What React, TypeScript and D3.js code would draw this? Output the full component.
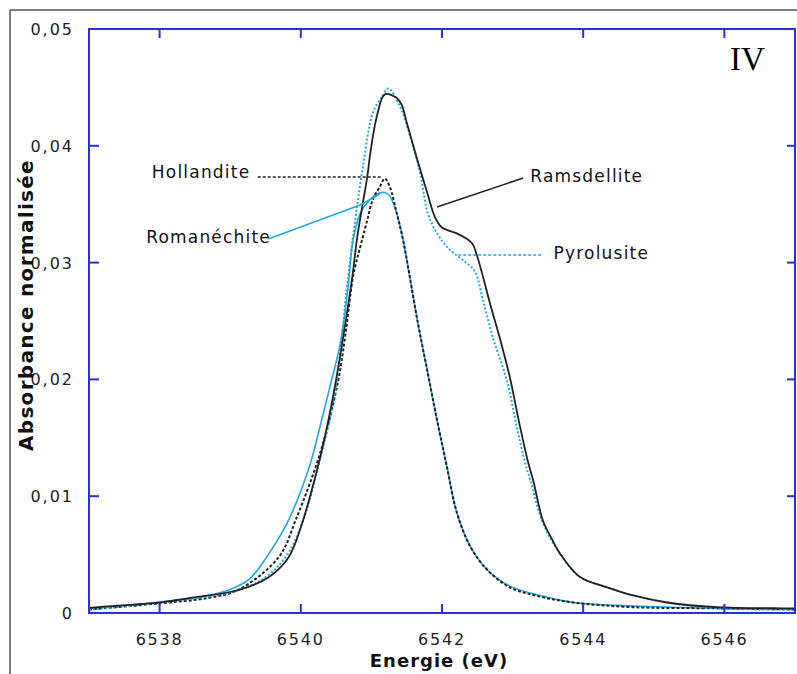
import React from "react";
import * as d3 from "d3";

// ---- Data ----
const ramsdelliteE = [6537.0, 6537.24, 6537.95, 6538.42, 6539.12, 6539.55, 6539.83, 6540.02, 6540.24, 6540.37, 6540.48, 6540.6, 6540.73, 6540.8, 6540.87, 6540.94, 6540.99, 6541.08, 6541.19, 6541.36, 6541.43, 6541.5, 6541.65, 6541.79, 6541.9, 6542.0, 6542.21, 6542.42, 6542.5, 6542.58, 6542.68, 6542.82, 6542.96, 6543.1, 6543.22, 6543.29, 6543.43, 6543.56, 6543.67, 6543.95, 6544.34, 6544.71, 6545.19, 6545.9, 6546.83, 6547.0];
const ramsdelliteA = [0.00043, 0.00056, 0.00086, 0.00128, 0.00197, 0.00308, 0.00479, 0.00771, 0.0125, 0.0159, 0.0193, 0.0236, 0.0288, 0.0322, 0.0348, 0.0373, 0.0396, 0.0426, 0.0444, 0.0441, 0.0435, 0.042, 0.0388, 0.036, 0.0339, 0.033, 0.0325, 0.0317, 0.0305, 0.0288, 0.0265, 0.0235, 0.0202, 0.0161, 0.0129, 0.0114, 0.0079, 0.0063, 0.0051, 0.0031, 0.0022, 0.0015, 0.0009, 0.0005, 0.0004, 0.0004];

const pyrolusiteE = [6537.0, 6537.95, 6539.12, 6539.55, 6539.83, 6540.06, 6540.27, 6540.48, 6540.67, 6540.77, 6540.88, 6541.02, 6541.15, 6541.24, 6541.41, 6541.55, 6541.69, 6541.8, 6541.93, 6542.11, 6542.3, 6542.46, 6542.58, 6542.72, 6542.92, 6543.06, 6543.18, 6543.25, 6543.43, 6543.67, 6543.95, 6544.34, 6544.71, 6545.19, 6545.9, 6547.0];
const pyrolusiteA = [0.0003, 0.00086, 0.00197, 0.0033, 0.0052, 0.0084, 0.0131, 0.0187, 0.0288, 0.0336, 0.0382, 0.0428, 0.0442, 0.0449, 0.0433, 0.0408, 0.0377, 0.0342, 0.0325, 0.0311, 0.0302, 0.0293, 0.0268, 0.0236, 0.0199, 0.0159, 0.0128, 0.0114, 0.0077, 0.0051, 0.0031, 0.0022, 0.0015, 0.0009, 0.0004, 0.0003];

const hollanditeE = [6537.0, 6537.95, 6538.7, 6539.12, 6539.69, 6539.93, 6540.29, 6540.53, 6540.64, 6540.74, 6540.84, 6540.94, 6541.02, 6541.12, 6541.19, 6541.26, 6541.36, 6541.45, 6541.52, 6541.65, 6541.79, 6541.93, 6542.07, 6542.21, 6542.4, 6542.64, 6542.96, 6543.39, 6543.86, 6544.71, 6545.9, 6547.0];
const hollanditeA = [0.0003, 0.0008, 0.0013, 0.0020, 0.0048, 0.008, 0.014, 0.0199, 0.0242, 0.0288, 0.0313, 0.0336, 0.0354, 0.0365, 0.0372, 0.0365, 0.0342, 0.0319, 0.0296, 0.0251, 0.0208, 0.0165, 0.0125, 0.0086, 0.0057, 0.0037, 0.0022, 0.0014, 0.0009, 0.0005, 0.0004, 0.0003];

const romanechiteE = [6537.0, 6537.95, 6538.6, 6538.95, 6539.27, 6539.55, 6539.83, 6540.13, 6540.27, 6540.41, 6540.56, 6540.67, 6540.74, 6540.84, 6540.98, 6541.09, 6541.19, 6541.26, 6541.36, 6541.45, 6541.52, 6541.65, 6541.79, 6541.93, 6542.07, 6542.21, 6542.4, 6542.64, 6542.96, 6543.39, 6543.86, 6544.71, 6545.9, 6547.0];
const romanechiteA = [0.0004, 0.0009, 0.0014, 0.0019, 0.0029, 0.0051, 0.008, 0.0127, 0.0159, 0.0193, 0.0231, 0.0279, 0.0319, 0.0342, 0.0354, 0.0359, 0.036, 0.0357, 0.0342, 0.0319, 0.0296, 0.0251, 0.0208, 0.0165, 0.0125, 0.0086, 0.0057, 0.0037, 0.0023, 0.0015, 0.0009, 0.0006, 0.0004, 0.0003];

const xTicks = [6538, 6540, 6542, 6544, 6546];
const yTicks = [0, 0.01, 0.02, 0.03, 0.04, 0.05];
const yTickLabels = ["0", "0,01", "0,02", "0,03", "0,04", "0,05"];
const xTitle = "Energie (eV)";
const yTitle = "Absorbance normalisée";
const panelLabel = "IV";

// annotation anchors in data units
const labelNames = ["Hollandite", "Romanéchite", "Ramsdellite", "Pyrolusite"];
const labelTextE = [6537.89, 6537.81, 6543.25, 6543.58];
const labelTextA = [0.03724, 0.03168, 0.0369, 0.03031];
const leaderE = [
  [6539.39, 6541.15],
  [6539.54, 6540.84, 6541.12],
  [6541.93, 6543.15],
  [6542.23, 6543.43],
];
const leaderA = [
  [0.03733, 0.03733],
  [0.03202, 0.03493, 0.03587],
  [0.03476, 0.03724],
  [0.03065, 0.03065],
];

const W = 797;
const H = 674;
const L = 89, R = 795, T = 29, B = 613;
const BLUE = "#2d2de0";
const CYAN = "#1ea8e2";
const BLACK = "#222";

export default function App() {
  const x = d3.scaleLinear().domain([6537, 6547]).range([L, R]);
  const y = d3.scaleLinear().domain([0, 0.05]).range([B, T]);
  const line = d3
    .line<[number, number]>()
    .x((d) => x(d[0]))
    .y((d) => y(d[1]))
    .curve(d3.curveCatmullRom.alpha(0.5));
  const zip = (a: number[], b: number[]) => a.map((v, i) => [v, b[i]] as [number, number]);
  const straight = d3
    .line<[number, number]>()
    .x((d) => x(d[0]))
    .y((d) => y(d[1]));

  const series = [
    { e: romanechiteE, a: romanechiteA, color: CYAN, dash: "none", w: 1.6 },
    { e: hollanditeE, a: hollanditeA, color: BLACK, dash: "3,2", w: 2 },
    { e: pyrolusiteE, a: pyrolusiteA, color: CYAN, dash: "2,2", w: 2 },
    { e: ramsdelliteE, a: ramsdelliteA, color: BLACK, dash: "none", w: 1.8 },
  ];
  const leaderStyles = [
    { color: BLACK, dash: "3,2", w: 1.5 },
    { color: CYAN, dash: "none", w: 1.5 },
    { color: BLACK, dash: "none", w: 1.5 },
    { color: CYAN, dash: "3,2", w: 1.5 },
  ];

  return (
    <svg
      width={W}
      height={H}
      style={{ position: "absolute", left: 0, top: 0, background: "#fff" }}
      fontFamily="'DejaVu Sans', Verdana, sans-serif"
    >
      <rect x={0} y={0} width={W} height={H} fill="#fff" />
      {/* outer frame */}
      <line x1={10} y1={10} x2={W} y2={10} stroke="#555" strokeWidth={1.5} />
      <line x1={10} y1={10} x2={10} y2={H} stroke="#555" strokeWidth={1.5} />

      {/* curves */}
      <g fill="none" strokeLinejoin="round">
        {series.map((s, i) => (
          <path
            key={i}
            d={line(zip(s.e, s.a)) || ""}
            stroke={s.color}
            strokeWidth={s.w}
            strokeDasharray={s.dash}
          />
        ))}
      </g>

      {/* leader lines */}
      <g fill="none">
        {leaderE.map((le, i) => (
          <path
            key={i}
            d={straight(zip(le, leaderA[i])) || ""}
            stroke={leaderStyles[i].color}
            strokeWidth={leaderStyles[i].w}
            strokeDasharray={leaderStyles[i].dash}
          />
        ))}
      </g>

      {/* labels */}
      <g fontSize={17} letterSpacing={1.2} fill="#111">
        {labelNames.map((n, i) => (
          <text key={n} x={x(labelTextE[i])} y={y(labelTextA[i])}>
            {n}
          </text>
        ))}
      </g>

      {/* axes frame */}
      <rect x={L} y={T} width={R - L} height={B - T} fill="none" stroke={BLUE} strokeWidth={2} />
      {xTicks.map((t) => (
        <g key={t}>
          <line x1={x(t)} x2={x(t)} y1={B} y2={B - 9} stroke={BLUE} strokeWidth={2} />
          <line x1={x(t)} x2={x(t)} y1={T} y2={T + 9} stroke={BLUE} strokeWidth={2} />
          <text x={x(t)} y={645} textAnchor="middle" fontSize={16} letterSpacing={1.8} fill="#222">
            {t}
          </text>
        </g>
      ))}
      {yTicks.map((t, i) => (
        <g key={t}>
          {i > 0 && i < yTicks.length - 1 && (
            <>
              <line x1={L} x2={L + 10} y1={y(t)} y2={y(t)} stroke={BLUE} strokeWidth={2} />
              <line x1={R} x2={R - 8} y1={y(t)} y2={y(t)} stroke={BLUE} strokeWidth={2} />
            </>
          )}
          <text x={74} y={y(t) + 6} textAnchor="end" fontSize={16} letterSpacing={2} fill="#222">
            {yTickLabels[i]}
          </text>
        </g>
      ))}

      {/* axis titles */}
      <text x={439} y={667} textAnchor="middle" fontSize={18} fontWeight="bold" letterSpacing={1} fill="#111">
        {xTitle}
      </text>
      <text
        transform="translate(33,305) rotate(-90)"
        textAnchor="middle"
        fontSize={20}
        fontWeight="bold"
        letterSpacing={1.3}
        fill="#111"
      >
        {yTitle}
      </text>

      {/* panel label */}
      <text x={x(6546.08)} y={y(0.04649)} fontFamily="'Liberation Serif', 'Times New Roman', serif" fontSize={33} fill="#000">
        {panelLabel}
      </text>
    </svg>
  );
}
